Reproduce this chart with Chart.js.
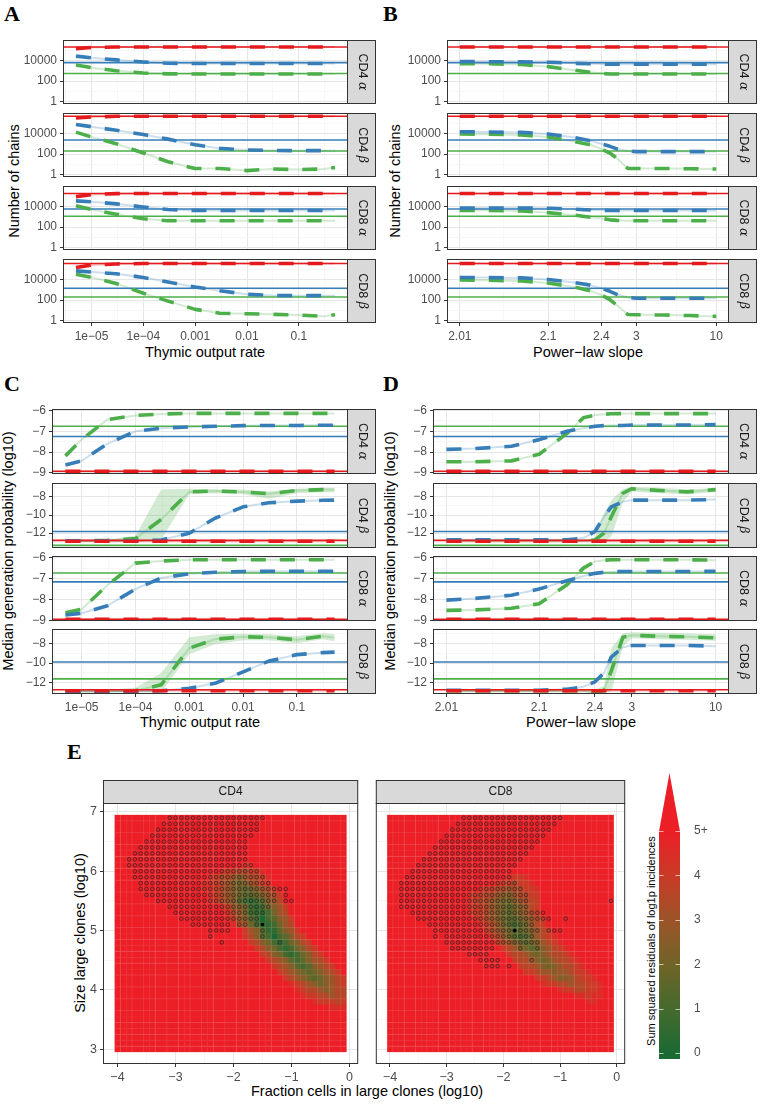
<!DOCTYPE html>
<html>
<head>
<meta charset="utf-8">
<title>Model sensitivity</title>
<script src="https://cdn.jsdelivr.net/npm/chart.js@4.4.1/dist/chart.umd.min.js"></script>
<style>
  html, body { margin: 0; padding: 0; background: #fff; }
  body { position: relative; width: 764px; height: 1107px; overflow: hidden; font-family: "Liberation Sans", Arial, sans-serif; }
  canvas { position: absolute; }
  .tag { position: absolute; font-family: "Liberation Serif", "DejaVu Serif", serif; font-weight: bold; font-size: 22px; line-height: 1; color: #000; }
  .ttl { position: absolute; font-size: 14.5px; line-height: 1; color: #000; white-space: nowrap; transform: translate(-50%, -50%); }
  .ttl.v { transform: translate(-50%, -50%) rotate(-90deg); }
</style>
</head>
<body>
<div class="tag" style="left:4px;top:3px">A</div>
<div class="tag" style="left:383px;top:3px">B</div>
<div class="tag" style="left:4px;top:373px">C</div>
<div class="tag" style="left:383px;top:373px">D</div>
<div class="tag" style="left:67px;top:741px">E</div>
<div class="ttl v" style="left:14px;top:181px">Number of chains</div>
<div class="ttl v" style="left:395px;top:181px">Number of chains</div>
<div class="ttl" style="left:205px;top:352px">Thymic output rate</div>
<div class="ttl" style="left:588px;top:352px">Power&#8722;law slope</div>
<div class="ttl v" style="left:8px;top:551px">Median generation probability (log10)</div>
<div class="ttl v" style="left:390px;top:551px">Median generation probability (log10)</div>
<div class="ttl" style="left:200px;top:722px">Thymic output rate</div>
<div class="ttl" style="left:581px;top:722px">Power&#8722;law slope</div>
<div class="ttl v" style="left:80px;top:933px">Size large clones (log10)</div>
<div class="ttl" style="left:367px;top:1091px">Fraction cells in large clones (log10)</div>
<div class="ttl v" style="left:651px;top:941px;font-size:11px">Sum squared residuals of log1p incidences</div>

<script>
// ---------- data ----------
const rates = [5e-6, 1e-5, 3e-5, 1e-4, 3e-4, 1e-3, 3e-3, 1e-2, 3e-2, 0.1, 0.3, 0.5];
const slopes = [2.01, 2.02, 2.05, 2.1, 2.2, 2.3, 2.4, 2.5, 2.6, 2.8, 3, 4, 6, 10];
const slopeTicks = [2.01, 2.1, 2.4, 3, 10];
const facetCells = ['CD4', 'CD4', 'CD8', 'CD8'];
const facetChains = ['α', 'β', 'α', 'β'];

// observed levels (solid lines), [red, blue, green] per facet
const chainsObs = [[5.3, 3.79, 2.74], [5.66, 3.36, 2.3], [5.26, 3.75, 3.05], [5.54, 3.14, 2.3]]; // log10 chains
const pgenObs = [[-8.92, -7.25, -6.76], [-12.8, -11.82, -13.35], [-8.95, -7.16, -6.73], [-12.7, -9.9, -11.6]];

// A: number of chains (log10) vs thymic output rate
const rateChainsRed = [
  [5.14, 5.25, 5.3, 5.3, 5.3, 5.3, 5.3, 5.3, 5.3, 5.3, 5.3, 5.3],
  [5.5, 5.6, 5.66, 5.66, 5.66, 5.66, 5.66, 5.66, 5.66, 5.66, 5.66, 5.66],
  [4.95, 5.15, 5.24, 5.26, 5.26, 5.26, 5.26, 5.26, 5.26, 5.26, 5.26, 5.26],
  [5.15, 5.4, 5.5, 5.54, 5.54, 5.54, 5.54, 5.54, 5.54, 5.54, 5.54, 5.54]];
const rateChainsBlue = [
  [4.42, 4.25, 4.05, 3.85, 3.72, 3.7, 3.7, 3.7, 3.7, 3.7, 3.7, 3.7],
  [4.86, 4.65, 4.3, 3.9, 3.45, 2.9, 2.55, 2.4, 2.35, 2.33, 2.33, 2.33],
  [4.54, 4.45, 4.25, 3.94, 3.7, 3.6, 3.6, 3.6, 3.6, 3.6, 3.6, 3.6],
  [4.83, 4.72, 4.55, 4.19, 3.75, 3.27, 2.9, 2.56, 2.45, 2.43, 2.43, 2.43]];
const rateChainsGreen = [
  [3.56, 3.3, 3.0, 2.78, 2.7, 2.68, 2.68, 2.68, 2.68, 2.68, 2.68, 2.68],
  [4.13, 3.65, 3.0, 2.1, 1.25, 0.6, 0.6, 0.4, 0.55, 0.5, 0.55, 0.7],
  [4.06, 3.7, 3.25, 2.8, 2.62, 2.61, 2.61, 2.61, 2.61, 2.61, 2.61, 2.61],
  [4.5, 4.2, 3.6, 2.66, 1.9, 1.1, 0.72, 0.67, 0.62, 0.55, 0.42, 0.58]];

// B: number of chains (log10) vs power-law slope
const slopeChainsRed = [
  [5.3, 5.3, 5.3, 5.3, 5.3, 5.3, 5.3, 5.3, 5.3, 5.3, 5.3, 5.3, 5.3, 5.3],
  [5.66, 5.66, 5.66, 5.66, 5.66, 5.66, 5.66, 5.66, 5.66, 5.66, 5.66, 5.66, 5.66, 5.66],
  [5.26, 5.26, 5.26, 5.26, 5.26, 5.26, 5.26, 5.26, 5.26, 5.26, 5.26, 5.26, 5.26, 5.26],
  [5.54, 5.54, 5.54, 5.54, 5.54, 5.54, 5.54, 5.54, 5.54, 5.54, 5.54, 5.54, 5.54, 5.54]];
const slopeChainsBlue = [
  [3.88, 3.88, 3.86, 3.82, 3.72, 3.68, 3.65, 3.63, 3.63, 3.63, 3.63, 3.63, 3.63, 3.63],
  [4.16, 4.14, 4.1, 3.95, 3.6, 3.3, 3.0, 2.75, 2.5, 2.3, 2.24, 2.24, 2.24, 2.24],
  [3.84, 3.84, 3.84, 3.82, 3.74, 3.66, 3.63, 3.6, 3.6, 3.6, 3.6, 3.6, 3.6, 3.6],
  [4.19, 4.18, 4.15, 4.0, 3.7, 3.45, 3.15, 2.85, 2.55, 2.25, 2.18, 2.18, 2.18, 2.18]];
const slopeChainsGreen = [
  [3.69, 3.68, 3.6, 3.4, 3.05, 2.85, 2.75, 2.68, 2.68, 2.68, 2.68, 2.68, 2.68, 2.68],
  [3.94, 3.93, 3.85, 3.65, 3.2, 2.9, 2.5, 2.1, 1.6, 0.6, 0.6, 0.6, 0.58, 0.55],
  [3.62, 3.62, 3.56, 3.4, 3.15, 2.95, 2.85, 2.7, 2.65, 2.62, 2.61, 2.61, 2.61, 2.61],
  [3.94, 3.92, 3.85, 3.65, 3.25, 2.9, 2.5, 2.05, 1.5, 0.6, 0.58, 0.55, 0.5, 0.42]];

// C: median generation probability (log10) vs thymic output rate
const ratePgenRed = [
  [-8.92, -8.92, -8.92, -8.92, -8.92, -8.92, -8.92, -8.92, -8.92, -8.92, -8.92, -8.92],
  [-12.9, -12.9, -12.9, -12.9, -12.9, -12.9, -12.9, -12.9, -12.9, -12.9, -12.9, -12.9],
  [-8.95, -8.95, -8.95, -8.95, -8.95, -8.95, -8.95, -8.95, -8.95, -8.95, -8.95, -8.95],
  [-12.8, -12.8, -12.8, -12.8, -12.8, -12.8, -12.8, -12.8, -12.8, -12.8, -12.8, -12.8]];
const ratePgenBlue = [
  [-8.62, -8.42, -7.6, -7.0, -6.85, -6.79, -6.76, -6.73, -6.72, -6.72, -6.71, -6.71],
  [-12.84, -12.84, -12.84, -12.84, -12.75, -12.0, -10.36, -9.1, -8.65, -8.47, -8.38, -8.36],
  [-8.74, -8.66, -8.3, -7.5, -6.97, -6.77, -6.7, -6.66, -6.65, -6.65, -6.65, -6.65],
  [-12.85, -12.85, -12.85, -12.85, -12.8, -12.55, -12.05, -10.9, -9.8, -9.15, -8.95, -8.9]];
const ratePgenGreen = [
  [-8.18, -7.4, -6.44, -6.24, -6.17, -6.14, -6.14, -6.14, -6.14, -6.14, -6.14, -6.14],
  [-12.85, -12.85, -12.8, -12.6, -10.5, -7.45, -7.35, -7.45, -7.65, -7.3, -7.2, -7.2],
  [-8.63, -8.47, -7.32, -6.26, -6.16, -6.1, -6.1, -6.1, -6.1, -6.1, -6.1, -6.1],
  [-12.85, -12.85, -12.85, -12.8, -12.2, -8.5, -7.6, -7.35, -7.4, -7.65, -7.3, -7.45]];
const ratePgenGreenHi = [null,
  [-12.75, -12.75, -12.7, -12.3, -7.2, -7.1, -7.15, -7.2, -7.4, -7.1, -7.0, -7.0], null,
  [-12.7, -12.7, -12.7, -12.5, -11.0, -7.4, -7.1, -7.05, -7.1, -7.3, -7.0, -7.1]];
const ratePgenGreenLo = [null,
  [-12.95, -12.95, -12.95, -12.95, -12.7, -7.7, -7.6, -7.7, -8.2, -7.6, -7.5, -7.5], null,
  [-12.95, -12.95, -12.95, -12.95, -12.95, -9.1, -8.1, -7.7, -7.7, -8.0, -7.6, -7.8]];

// D: median generation probability (log10) vs power-law slope
const slopePgenRed = [
  [-8.92, -8.92, -8.92, -8.92, -8.92, -8.92, -8.92, -8.92, -8.92, -8.92, -8.92, -8.92, -8.92, -8.92],
  [-12.9, -12.9, -12.9, -12.9, -12.9, -12.9, -12.9, -12.9, -12.9, -12.9, -12.9, -12.9, -12.9, -12.9],
  [-8.95, -8.95, -8.95, -8.95, -8.95, -8.95, -8.95, -8.95, -8.95, -8.95, -8.95, -8.95, -8.95, -8.95],
  [-12.8, -12.8, -12.8, -12.8, -12.8, -12.8, -12.8, -12.8, -12.8, -12.8, -12.8, -12.8, -12.8, -12.8]];
const slopePgenBlue = [
  [-7.87, -7.83, -7.72, -7.4, -7.0, -6.85, -6.76, -6.73, -6.72, -6.72, -6.7, -6.7, -6.7, -6.68],
  [-12.73, -12.73, -12.73, -12.73, -12.73, -12.55, -11.82, -10.2, -9.1, -8.55, -8.36, -8.36, -8.36, -8.3],
  [-8.03, -7.95, -7.8, -7.5, -7.1, -6.88, -6.75, -6.7, -6.68, -6.66, -6.66, -6.66, -6.66, -6.65],
  [-12.75, -12.75, -12.75, -12.75, -12.65, -12.4, -11.9, -11.0, -9.4, -8.4, -8.23, -8.23, -8.23, -8.3]];
const slopePgenGreen = [
  [-8.46, -8.46, -8.42, -8.1, -7.1, -6.35, -6.22, -6.18, -6.16, -6.15, -6.15, -6.15, -6.15, -6.15],
  [-12.85, -12.85, -12.85, -12.85, -12.85, -12.85, -12.75, -12.0, -10.2, -7.6, -7.1, -7.3, -7.45, -7.2],
  [-8.52, -8.5, -8.42, -8.2, -7.3, -6.5, -6.18, -6.12, -6.1, -6.1, -6.1, -6.1, -6.1, -6.12],
  [-12.8, -12.8, -12.8, -12.8, -12.8, -12.8, -12.95, -12.8, -10.8, -7.4, -7.2, -7.3, -7.35, -7.45]];
const slopePgenGreenHi = [null,
  [-12.7, -12.7, -12.7, -12.7, -12.7, -12.7, -12.5, -9.8, -8.4, -7.1, -6.9, -7.0, -7.2, -7.0], null,
  [-12.65, -12.65, -12.65, -12.65, -12.65, -12.65, -12.7, -12.3, -8.5, -7.0, -6.9, -6.95, -7.0, -7.1]];
const slopePgenGreenLo = [null,
  [-12.95, -12.95, -12.95, -12.95, -12.95, -12.95, -12.95, -12.95, -12.4, -8.6, -7.4, -7.6, -7.7, -7.45], null,
  [-12.95, -12.95, -12.95, -12.95, -12.95, -12.95, -13.05, -13.0, -12.9, -8.3, -7.5, -7.6, -7.65, -7.75]];

// E: residual grid, 40 x 40 cells (x = -4.0..-0.1, y = 6.9..3.0)
// [row, first col, digits]; digit d = residual d/2, unlisted cells are 5+
const cd4Band = [
  [8, 22, '99'], [9, 18, '98877889'], [10, 16, '98776567789'], [11, 15, '998765456789'],
  [12, 15, '9987654345678'], [13, 16, '9876543345678'], [14, 16, '9876532123567'],
  [15, 18, '986542124568'], [16, 19, '97642112467'], [17, 19, '986532023568'],
  [18, 20, '97642112467'], [19, 22, '8653113568'], [20, 22, '87532023578'],
  [21, 23, '87542124578'], [22, 24, '87542124578'], [23, 25, '87542124578'],
  [24, 26, '87653235678'], [25, 27, '87653235678'], [26, 28, '87654345678'],
  [27, 29, '87654345678'], [28, 30, '9876545678'], [29, 31, '987765677'],
  [30, 32, '98877677'], [31, 34, '988878'], [32, 37, '999']];
const cd8Band = [
  [10, 21, '9889'], [11, 19, '9887889'], [12, 16, '98877677889'], [13, 14, '9887765567788'],
  [14, 14, '9877654456778'], [15, 14, '9887654345678'], [16, 14, '9887654345678'],
  [17, 15, '9876543345678'], [18, 16, '987643234678'], [19, 17, '876543345678'],
  [20, 18, '876432346789'], [21, 19, '876543456789'], [22, 20, '876543456789'],
  [23, 21, '877654567789'], [24, 22, '877654567789'], [25, 23, '877654567789'],
  [26, 24, '887665667889'], [27, 26, '88765567889'], [28, 27, '98877677889'],
  [29, 30, '98877889'], [30, 33, '99899'], [31, 35, '99']];
// open circles: [row, first col, last col]
const cd4Circles = [
  [0, 9, 25], [1, 8, 24], [2, 7, 24], [3, 6, 23], [4, 5, 22], [5, 4, 22], [6, 3, 22], [7, 2, 22],
  [8, 2, 23], [9, 3, 24], [10, 3, 25], [11, 4, 26], [12, 4, 29], [13, 5, 27], [13, 29, 29],
  [14, 7, 27], [14, 29, 30], [15, 9, 26], [16, 10, 25], [17, 11, 24], [18, 13, 19], [18, 21, 22],
  [18, 24, 24], [19, 16, 19], [19, 25, 25], [20, 16, 16], [20, 25, 25], [21, 18, 18], [21, 28, 28]];
const cd8Circles = [
  [0, 13, 30], [1, 12, 29], [2, 11, 28], [3, 10, 27], [4, 9, 26], [5, 8, 25], [6, 7, 24], [7, 6, 23],
  [8, 5, 22], [9, 4, 21], [10, 3, 21], [11, 2, 22], [12, 2, 23], [13, 2, 24], [14, 2, 24], [14, 39, 39],
  [15, 2, 24], [16, 4, 27], [17, 5, 28], [17, 31, 31], [18, 7, 25], [19, 8, 26], [19, 28, 30],
  [20, 8, 8], [20, 10, 25], [21, 10, 26], [22, 11, 18], [22, 23, 23], [22, 26, 26], [23, 14, 17],
  [24, 16, 19], [24, 25, 25], [25, 17, 19], [25, 21, 21]];
const cd4Best = {x: -1.5, y: 5.1};
const cd8Best = {x: -1.8, y: 5.0};
const gridX0 = -4, gridY0 = 6.9, gridStep = 0.1, gridN = 40;

const resTicks = [0, 1, 2, 3, 4, 5];
const resLabels = ['0', '1', '2', '3', '4', '5+'];
const resStops = [[27, 106, 52], [70, 106, 45], [112, 100, 40], [156, 84, 40], [202, 58, 38], [236, 31, 39]];

// ---------- styling ----------
const FONT = '"Liberation Sans", Arial, sans-serif';
Chart.defaults.font.family = FONT;
const SET1 = {red: '#e41a1c', blue: '#377eb8', green: '#4daf4a'};
const FAINT = {red: 'rgba(228,26,28,0.25)', blue: 'rgba(55,126,184,0.25)', green: 'rgba(77,175,74,0.25)'};
const NONE = 'rgba(0,0,0,0)';
const MINUS = '\u2212';

function resColor(v) {
  const t = Math.min(5, Math.max(0, v));
  const k = Math.min(4, Math.floor(t)), f = t - k;
  const a = resStops[k], b = resStops[k + 1];
  return `rgb(${a.map((c, i) => Math.round(c + (b[i] - c) * f)).join(',')})`;
}

function makeCanvas(left, top, w, h) {
  const c = document.createElement('canvas');
  c.width = w; c.height = h;
  c.style.left = left + 'px'; c.style.top = top + 'px';
  c.style.width = w + 'px'; c.style.height = h + 'px';
  document.body.appendChild(c);
  return c;
}

function axis(spec, dir, show, size, fs) {
  const all = spec.major.concat(spec.minor).sort((a, b) => a - b);
  const near = (m, v) => Math.abs(m - v) <= 1e-9 + 1e-6 * Math.abs(m);
  const major = c => !!(c.tick && spec.major.some(m => near(m, c.tick.value)));
  return {
    type: spec.type, min: spec.min, max: spec.max,
    afterBuildTicks: s => { s.ticks = all.map(v => ({value: v})); },
    afterFit: s => {
      if (dir === 'x') s.height = size; else s.width = size;
      s.paddingLeft = 0; s.paddingRight = 0; s.paddingTop = 0; s.paddingBottom = 0;
    },
    border: {display: false},
    grid: {
      color: c => major(c) ? '#e6e6e6' : '#f3f3f3',
      lineWidth: c => major(c) ? 1 : 0.7,
      drawTicks: show, tickLength: 3, tickWidth: 1,
      tickColor: c => major(c) ? '#333333' : NONE
    },
    ticks: {
      display: show, autoSkip: false, maxRotation: 0, minRotation: 0, padding: 3,
      color: '#4d4d4d', font: {size: fs},
      callback: v => { const k = spec.major.findIndex(m => near(m, v)); return k >= 0 ? spec.labels[k] : ''; }
    }
  };
}

function stripText(ctx, name, greek, size) {
  const f1 = `${size}px ${FONT}`;
  const f2 = `italic ${size}px "DejaVu Serif", "Liberation Serif", serif`;
  const head = greek ? name + ' ' : name;
  ctx.font = f1; const w1 = ctx.measureText(head).width;
  let w2 = 0;
  if (greek) { ctx.font = f2; w2 = ctx.measureText(greek).width; }
  const x0 = -(w1 + w2) / 2;
  ctx.fillStyle = '#1a1a1a'; ctx.textBaseline = 'middle'; ctx.textAlign = 'left';
  ctx.font = f1; ctx.fillText(head, x0, 0);
  if (greek) { ctx.font = f2; ctx.fillText(greek, x0 + w1, 0); }
}

function framePlugin(side, size, name, greek, fs) {
  return {
    id: 'frame',
    afterDraw(chart) {
      const {ctx, chartArea: a} = chart;
      ctx.save();
      ctx.lineWidth = 1; ctx.strokeStyle = '#333333'; ctx.fillStyle = '#d9d9d9';
      let cx, cy, rot = 0;
      if (side === 'right') {
        ctx.fillRect(a.right, a.top, size, a.bottom - a.top);
        ctx.strokeRect(a.right - 0.5, a.top + 0.5, size, a.bottom - a.top - 1);
        cx = a.right + size / 2; cy = (a.top + a.bottom) / 2; rot = Math.PI / 2;
      } else {
        ctx.fillRect(a.left, a.top - size, a.right - a.left, size);
        ctx.strokeRect(a.left + 0.5, a.top - size + 0.5, a.right - a.left - 1, size);
        cx = (a.left + a.right) / 2; cy = a.top - size / 2;
      }
      ctx.strokeRect(a.left + 0.5, a.top + 0.5, a.right - a.left - 1, a.bottom - a.top - 1);
      ctx.translate(cx, cy); ctx.rotate(rot);
      stripText(ctx, name, greek, fs);
      ctx.restore();
    }
  };
}

// ---------- axes ----------
const rateAxis = {type: 'logarithmic', min: 10 ** -5.551, max: 10 ** -0.051,
  major: [1e-5, 1e-4, 1e-3, 1e-2, 0.1],
  minor: [10 ** -5.5, 10 ** -4.5, 10 ** -3.5, 10 ** -2.5, 10 ** -1.5, 10 ** -0.5],
  labels: ['1e' + MINUS + '05', '1e' + MINUS + '04', '0.001', '0.01', '0.1']};
const slopeMajor = slopeTicks.map(s => Math.log10(s - 2));
const slopeAxis = {type: 'linear', min: -2.145, max: 1.048,
  major: slopeMajor,
  minor: slopeMajor.slice(1).map((m, i) => (m + slopeMajor[i]) / 2),
  labels: slopeTicks.map(String)};
const chainsAxis = {type: 'logarithmic', min: 10 ** -0.19, max: 10 ** 5.98,
  major: [1, 100, 10000], minor: [10, 1000, 100000], labels: ['1', '100', '10000']};
const neg = v => (v < 0 ? MINUS : '') + Math.abs(v);
const pgenAxes = [
  {type: 'linear', min: -9.05, max: -5.93, major: [-9, -8, -7, -6], minor: [-8.5, -7.5, -6.5]},
  {type: 'linear', min: -13.64, max: -6.47, major: [-12, -10, -8], minor: [-13, -11, -9, -7]},
  {type: 'linear', min: -9.03, max: -5.92, major: [-9, -8, -7, -6], minor: [-8.5, -7.5, -6.5]},
  {type: 'linear', min: -13.13, max: -6.56, major: [-12, -10, -8], minor: [-13, -11, -9, -7]}];
pgenAxes.forEach(a => { a.labels = a.major.map(neg); });

// ---------- line facets (A-D) ----------
const EDGE = 7; // room above/below each facet so edge tick labels are not cut
function lineFacet(p, k) {
  const last = k === 3;
  const tf = p.logY ? (v => 10 ** v) : (v => v);
  const pts = arr => p.xs.map((x, i) => ({x, y: tf(arr[i])}));
  const series = [['red', p.red[k]], ['blue', p.blue[k]], ['green', p.green[k]]];
  const ds = [];
  series.forEach(([c, arr]) => ds.push({data: pts(arr), borderColor: SET1[c], borderWidth: 3.6, borderDash: [15, 14]}));
  p.obs[k].forEach((v, j) => ds.push({
    data: [{x: p.x.min, y: tf(v)}, {x: p.x.max, y: tf(v)}], borderColor: SET1[series[j][0]], borderWidth: 1.6}));
  series.forEach(([c, arr]) => ds.push({data: pts(arr), borderColor: FAINT[c], borderWidth: 2}));
  if (p.hi && p.hi[k]) {
    ds.push({data: pts(p.hi[k]), borderColor: NONE, backgroundColor: FAINT.green, fill: '+1'});
    ds.push({data: pts(p.lo[k]), borderColor: NONE});
  }
  const yAx = p.logY ? chainsAxis : pgenAxes[k];
  const xH = last ? 26 : 0;
  const padB = last ? 0 : EDGE;
  const W = p.yW + p.plotW + p.strip, H = EDGE + p.plotH + xH + padB;
  const cv = makeCanvas(p.left - p.yW, p.tops[k] - EDGE, W, H);
  new Chart(cv, {
    type: 'line',
    data: {datasets: ds},
    options: {
      responsive: false, animation: false, devicePixelRatio: 1, events: [],
      layout: {padding: {left: 0, right: p.strip, top: EDGE, bottom: padB}},
      elements: {point: {radius: 0}, line: {tension: 0, borderJoinStyle: 'round', fill: false}},
      plugins: {legend: {display: false}, tooltip: {enabled: false}},
      scales: {x: axis(p.x, 'x', last, xH, 12), y: axis(yAx, 'y', true, p.yW, 12)}
    },
    plugins: [framePlugin('right', p.strip, facetCells[k], facetChains[k], 12.5)]
  });
}

const slopeXs = slopes.map(s => Math.log10(s - 2));
const panels = [
  {xs: rates, x: rateAxis, logY: true, obs: chainsObs, red: rateChainsRed, blue: rateChainsBlue, green: rateChainsGreen,
   left: 63, plotW: 285, yW: 63, strip: 28, tops: [40, 113, 186, 259], plotH: 64},
  {xs: slopeXs, x: slopeAxis, logY: true, obs: chainsObs, red: slopeChainsRed, blue: slopeChainsBlue, green: slopeChainsGreen,
   left: 447, plotW: 282, yW: 62, strip: 28, tops: [40, 113, 186, 259], plotH: 64},
  {xs: rates, x: rateAxis, logY: false, obs: pgenObs, red: ratePgenRed, blue: ratePgenBlue, green: ratePgenGreen,
   hi: ratePgenGreenHi, lo: ratePgenGreenLo,
   left: 52, plotW: 296, yW: 52, strip: 28, tops: [409, 483, 556, 629], plotH: 65},
  {xs: slopeXs, x: slopeAxis, logY: false, obs: pgenObs, red: slopePgenRed, blue: slopePgenBlue, green: slopePgenGreen,
   hi: slopePgenGreenHi, lo: slopePgenGreenLo,
   left: 433, plotW: 296, yW: 50, strip: 28, tops: [409, 483, 556, 629], plotH: 65}];
panels.forEach(p => [0, 1, 2, 3].forEach(k => lineFacet(p, k)));

// ---------- heatmaps (E) ----------
const eX = {type: 'linear', min: -4.25, max: 0.15, major: [-4, -3, -2, -1, 0], minor: [-3.5, -2.5, -1.5, -0.5]};
eX.labels = eX.major.map(v => v === 0 ? '0' : neg(v));
const eY = {type: 'linear', min: 2.75, max: 7.15, major: [3, 4, 5, 6, 7], minor: [3.5, 4.5, 5.5, 6.5], labels: ['3', '4', '5', '6', '7']};

function heatPlugin(band) {
  return {
    id: 'heat',
    beforeDatasetsDraw(chart) {
      const {ctx, scales: {x, y}} = chart;
      const h = gridStep / 2;
      ctx.save();
      for (let j = 0; j < gridN; j++) {
        const row = band.find(b => b[0] === j);
        for (let i = 0; i < gridN; i++) {
          let v = 5;
          if (row && i >= row[1] && i < row[1] + row[2].length) v = Number(row[2][i - row[1]]) / 2;
          const cx = gridX0 + gridStep * i, cy = gridY0 - gridStep * j;
          const px0 = x.getPixelForValue(cx - h), px1 = x.getPixelForValue(cx + h);
          const py0 = y.getPixelForValue(cy + h), py1 = y.getPixelForValue(cy - h);
          ctx.fillStyle = resColor(v);
          ctx.fillRect(px0, py0, px1 - px0 + (i < gridN - 1 ? 0.4 : 0), py1 - py0 + (j < gridN - 1 ? 0.4 : 0));
        }
      }
      // faint seams every few cells, as in the rendered tiles
      ctx.strokeStyle = 'rgba(255,255,255,0.18)'; ctx.lineWidth = 0.6;
      for (let i = 1; i < gridN; i += 2) {
        const px = x.getPixelForValue(gridX0 + gridStep * i - h);
        ctx.beginPath(); ctx.moveTo(px, y.getPixelForValue(gridY0 + h)); ctx.lineTo(px, y.getPixelForValue(gridY0 - gridStep * (gridN - 1) - h)); ctx.stroke();
        const py = y.getPixelForValue(gridY0 - gridStep * i + h);
        ctx.beginPath(); ctx.moveTo(x.getPixelForValue(gridX0 - h), py); ctx.lineTo(x.getPixelForValue(gridX0 + gridStep * (gridN - 1) + h), py); ctx.stroke();
      }
      ctx.restore();
    }
  };
}

function heatFacet(name, band, circles, best, plotLeft, plotW, yW) {
  const stripT = 23, plotH = 261, xH = 22;
  const pts = [];
  circles.forEach(([j, a, b]) => { for (let i = a; i <= b; i++) pts.push({x: gridX0 + gridStep * i, y: gridY0 - gridStep * j}); });
  const cv = makeCanvas(plotLeft - yW, 803 - stripT, yW + plotW, stripT + plotH + xH);
  new Chart(cv, {
    type: 'scatter',
    data: {datasets: [
      {data: [best], pointRadius: 1.8, pointBackgroundColor: '#000', pointBorderColor: '#000', pointBorderWidth: 0},
      {data: pts, pointRadius: 1.8, pointBackgroundColor: NONE, pointBorderColor: 'rgba(35,35,35,0.85)', pointBorderWidth: 0.8}
    ]},
    options: {
      responsive: false, animation: false, devicePixelRatio: 1, events: [],
      layout: {padding: {left: 0, right: 0, top: stripT, bottom: 0}},
      plugins: {legend: {display: false}, tooltip: {enabled: false}},
      scales: {x: axis(eX, 'x', true, xH, 12.5), y: axis(eY, 'y', yW > 0, yW, 12.5)}
    },
    plugins: [heatPlugin(band), framePlugin('top', stripT, name, '', 12)]
  });
}
heatFacet('CD4', cd4Band, cd4Circles, cd4Best, 103, 260, 30);
heatFacet('CD8', cd8Band, cd8Circles, cd8Best, 371, 259, 0);

// ---------- colour bar ----------
(function colorbar() {
  const left = 659, top = 765, barW = 21, labW = 40, padTop = 66, barH = 228, triH = 58;
  const cv = makeCanvas(left, top, barW + labW, padTop + barH);
  const bar = {
    id: 'cbar',
    beforeDatasetsDraw(chart) {
      const {ctx, chartArea: a, scales: {y}} = chart;
      const g = ctx.createLinearGradient(0, y.getPixelForValue(0), 0, y.getPixelForValue(5));
      resTicks.forEach(v => g.addColorStop(v / 5, resColor(v)));
      ctx.save();
      ctx.fillStyle = g;
      ctx.fillRect(a.left, a.top, a.right - a.left, a.bottom - a.top);
      ctx.fillStyle = resColor(5);
      ctx.beginPath();
      ctx.moveTo(a.left, a.top + 0.5); ctx.lineTo(a.right, a.top + 0.5);
      ctx.lineTo((a.left + a.right) / 2, a.top - triH); ctx.closePath(); ctx.fill();
      ctx.strokeStyle = 'rgba(255,255,255,0.65)'; ctx.lineWidth = 1;
      resTicks.forEach(v => {
        const py = Math.round(y.getPixelForValue(v)) + 0.5;
        ctx.beginPath();
        ctx.moveTo(a.left, py); ctx.lineTo(a.left + 4.5, py);
        ctx.moveTo(a.right - 4.5, py); ctx.lineTo(a.right, py);
        ctx.stroke();
      });
      ctx.restore();
    }
  };
  new Chart(cv, {
    type: 'scatter',
    data: {datasets: [{data: []}]},
    options: {
      responsive: false, animation: false, devicePixelRatio: 1, events: [],
      layout: {padding: {left: 0, right: 0, top: padTop, bottom: 0}},
      plugins: {legend: {display: false}, tooltip: {enabled: false}},
      scales: {
        x: {display: false, min: 0, max: 1},
        y: {position: 'right', min: -0.135, max: 5,
          afterBuildTicks: s => { s.ticks = resTicks.map(v => ({value: v})); },
          afterFit: s => { s.width = labW; s.paddingTop = 0; s.paddingBottom = 0; },
          border: {display: false}, grid: {display: false},
          ticks: {padding: 6, color: '#4d4d4d', font: {size: 12}, callback: v => resLabels[resTicks.indexOf(v)]}}
      }
    },
    plugins: [bar]
  });
})();
</script>
</body>
</html>
